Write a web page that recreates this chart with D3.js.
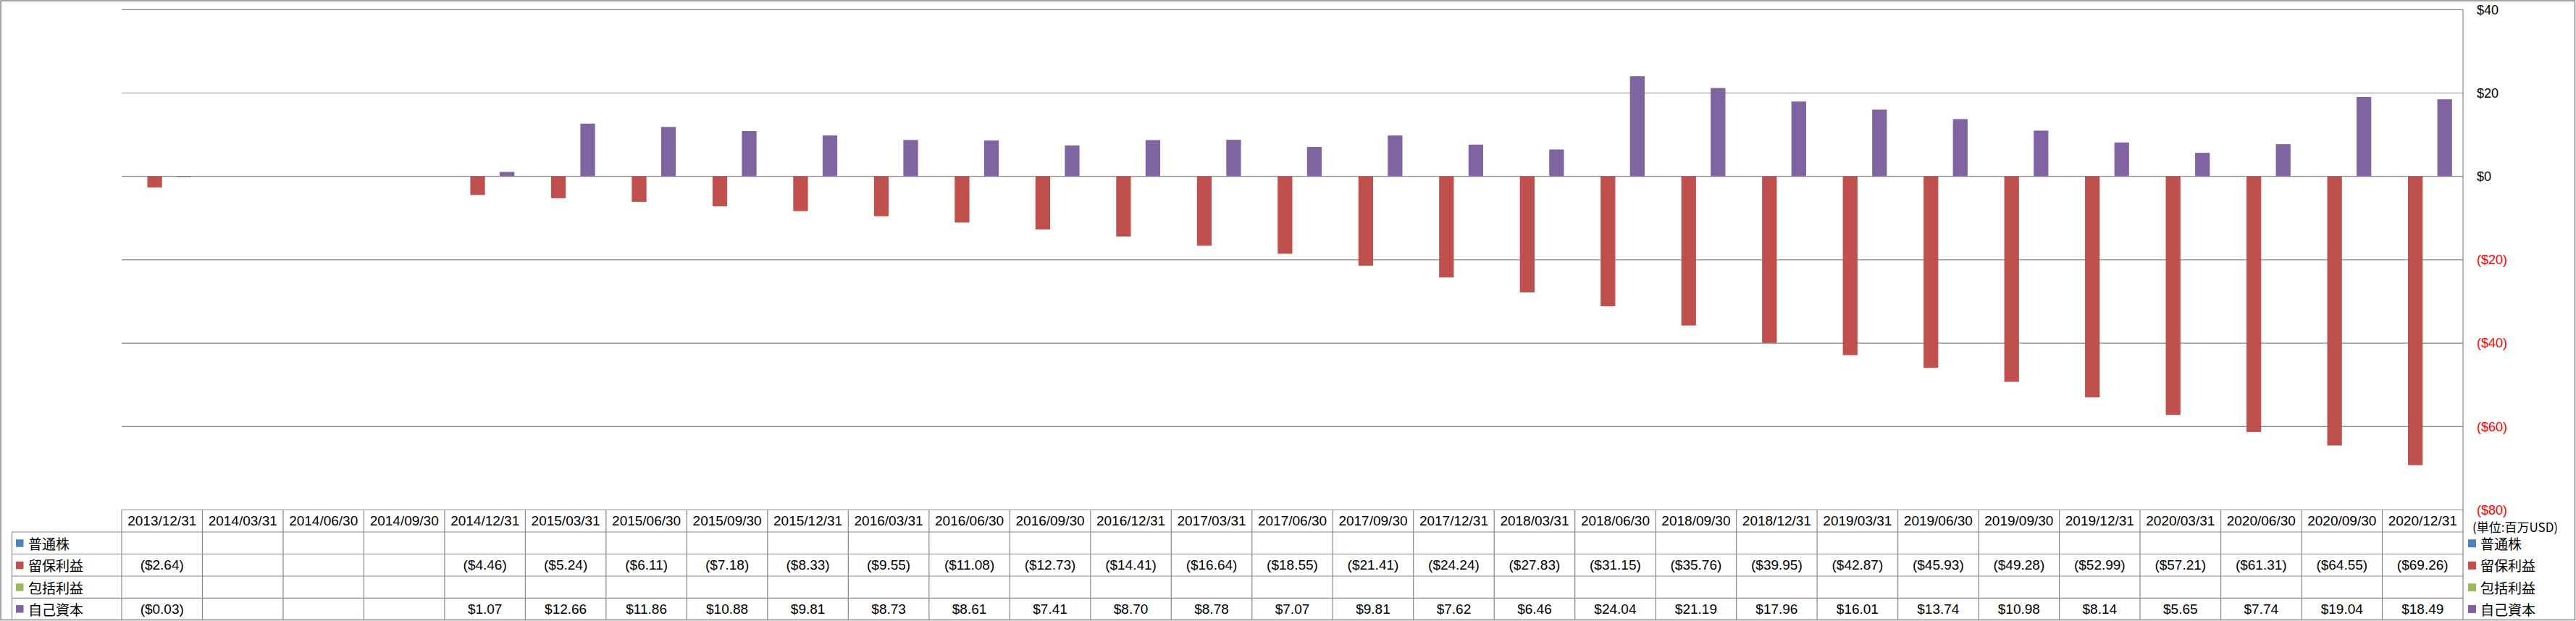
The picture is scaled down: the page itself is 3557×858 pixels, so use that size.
<!DOCTYPE html>
<html>
<head>
<meta charset="utf-8">
<script src="https://cdn.jsdelivr.net/npm/d3@7"></script>
<style>
  html, body { margin: 0; padding: 0; background: #fff; }
  svg { display: block; }
</style>
</head>
<body>
<div id="chart"></div>
<script>
const dates = ["2013/12/31","2014/03/31","2014/06/30","2014/09/30","2014/12/31","2015/03/31","2015/06/30","2015/09/30","2015/12/31","2016/03/31","2016/06/30","2016/09/30","2016/12/31","2017/03/31","2017/06/30","2017/09/30","2017/12/31","2018/03/31","2018/06/30","2018/09/30","2018/12/31","2019/03/31","2019/06/30","2019/09/30","2019/12/31","2020/03/31","2020/06/30","2020/09/30","2020/12/31"];
const seriesNames = ["普通株","留保利益","包括利益","自己資本"];
const seriesColors = ["#4F81BD","#C0504D","#9BBB59","#8064A2"];
const commonStock = dates.map(() => null);
const retainedEarnings = [-2.64,null,null,null,-4.46,-5.24,-6.11,-7.18,-8.33,-9.55,-11.08,-12.73,-14.41,-16.64,-18.55,-21.41,-24.24,-27.83,-31.15,-35.76,-39.95,-42.87,-45.93,-49.28,-52.99,-57.21,-61.31,-64.55,-69.26];
const comprehensiveIncome = dates.map(() => null);
const equity = [-0.03,null,null,null,1.07,12.66,11.86,10.88,9.81,8.73,8.61,7.41,8.70,8.78,7.07,9.81,7.62,6.46,24.04,21.19,17.96,16.01,13.74,10.98,8.14,5.65,7.74,19.04,18.49];
const yTicks = [40,20,0,-20,-40,-60,-80];
const unitLabel = "(単位:百万USD)";

const seriesValues = [commonStock, retainedEarnings, comprehensiveIncome, equity];

const W = 3557, H = 858;
const plotL = 168, plotR = 3401, plotT = 13.3, plotB = 704.5;
const rowLines = [704.5, 735, 765.5, 796, 826.3, 855.8];
const tableLeft = 16.5;
const gridColor = "#878787";
const numFont = "'Liberation Sans', Arial, sans-serif";
const cjkFont = "'Noto Sans CJK JP', 'Noto Sans', sans-serif";

const svg = d3.select("#chart").append("svg").attr("width", W).attr("height", H);
svg.append("rect").attr("width", W).attr("height", H).attr("fill", "#fff");

const x = d3.scaleBand().domain(dates).range([plotL, plotR]).padding(0);
const bw = x.bandwidth();
const barW = bw / 5.5;
const xs = d3.scaleBand().domain(seriesNames).range([barW * 0.75, bw - barW * 0.75]).padding(0);
const y = d3.scaleLinear().domain([-80, 40]).range([plotB, plotT]);

// gridlines
svg.append("g").selectAll("line").data(yTicks.filter(t => t > -80)).join("line")
  .attr("x1", plotL).attr("x2", plotR)
  .attr("y1", d => y(d)).attr("y2", d => y(d))
  .attr("stroke", gridColor).attr("stroke-width", 1.2);

// bars
seriesNames.forEach((name, si) => {
  const vals = seriesValues[si];
  svg.append("g").selectAll("rect")
    .data(dates.map((d, i) => ({d, v: vals[i]})).filter(o => o.v !== null))
    .join("rect")
    .attr("x", o => x(o.d) + xs(name))
    .attr("width", xs.bandwidth())
    .attr("y", o => Math.min(y(o.v), y(0)))
    .attr("height", o => Math.max(Math.abs(y(o.v) - y(0)), 0.8))
    .attr("fill", seriesColors[si]);
});

// right axis
const axis = d3.axisRight(y).tickValues(yTicks).tickSize(0).tickPadding(19)
  .tickFormat(d => d < 0 ? `($${-d})` : `$${d}`);
const ag = svg.append("g").attr("transform", `translate(${plotR},0)`).call(axis);
ag.select(".domain").remove();
ag.selectAll("text")
  .attr("font-family", numFont).attr("font-size", 18)
  .attr("fill", d => d < 0 ? "#FF0000" : "#000");

// right vertical line
svg.append("line").attr("x1", plotR).attr("x2", plotR).attr("y1", plotT).attr("y2", rowLines[5])
  .attr("stroke", gridColor).attr("stroke-width", 1.2);

// table lines
const tg = svg.append("g").attr("stroke", gridColor).attr("stroke-width", 1.2);
tg.append("line").attr("x1", plotL).attr("x2", plotR).attr("y1", rowLines[0]).attr("y2", rowLines[0]);
rowLines.slice(1, 5).forEach(ry => {
  tg.append("line").attr("x1", tableLeft).attr("x2", plotR).attr("y1", ry).attr("y2", ry);
});
tg.append("line").attr("x1", tableLeft).attr("x2", tableLeft).attr("y1", rowLines[1]).attr("y2", rowLines[5]);
tg.selectAll("line.col").data(dates).join("line").attr("class", "col")
  .attr("x1", d => x(d)).attr("x2", d => x(d))
  .attr("y1", rowLines[0]).attr("y2", rowLines[5]);

// header dates
svg.append("g").selectAll("text").data(dates).join("text")
  .attr("x", d => x(d) + bw / 2).attr("y", (rowLines[0] + rowLines[1]) / 2)
  .attr("text-anchor", "middle").attr("dominant-baseline", "central")
  .attr("font-family", numFont).attr("font-size", 19).attr("fill", "#000")
  .text(d => d);

const fmt = v => v < 0 ? `($${(-v).toFixed(2)})` : `$${v.toFixed(2)}`;

seriesNames.forEach((name, si) => {
  const cy = (rowLines[si + 1] + rowLines[si + 2]) / 2;
  // table legend
  svg.append("rect").attr("x", 22).attr("y", cy - 5).attr("width", 10.5).attr("height", 10.5)
    .attr("fill", seriesColors[si]);
  svg.append("text").attr("x", 39).attr("y", cy).attr("dominant-baseline", "central")
    .attr("font-family", cjkFont).attr("font-size", 19).attr("fill", "#000").text(name);
  // values
  svg.append("g").selectAll("text")
    .data(dates.map((d, i) => ({d, v: seriesValues[si][i]})).filter(o => o.v !== null))
    .join("text")
    .attr("x", o => x(o.d) + bw / 2).attr("y", cy)
    .attr("text-anchor", "middle").attr("dominant-baseline", "central")
    .attr("font-family", numFont).attr("font-size", 19).attr("fill", "#000")
    .text(o => fmt(o.v));
  // right legend
  svg.append("rect").attr("x", 3408).attr("y", cy - 5).attr("width", 11).attr("height", 11)
    .attr("fill", seriesColors[si]);
  svg.append("text").attr("x", 3425).attr("y", cy).attr("dominant-baseline", "central")
    .attr("font-family", cjkFont).attr("font-size", 19).attr("fill", "#000").text(name);
});

svg.append("text").attr("x", 3414).attr("y", 727).attr("dominant-baseline", "central")
  .attr("font-family", cjkFont).attr("font-size", 17).attr("fill", "#000").text(unitLabel);

// outer border
svg.append("rect").attr("x", 1).attr("y", 1).attr("width", W - 2.5).attr("height", H - 2.5)
  .attr("fill", "none").attr("stroke", gridColor).attr("stroke-width", 1.5);
</script>
</body>
</html>
